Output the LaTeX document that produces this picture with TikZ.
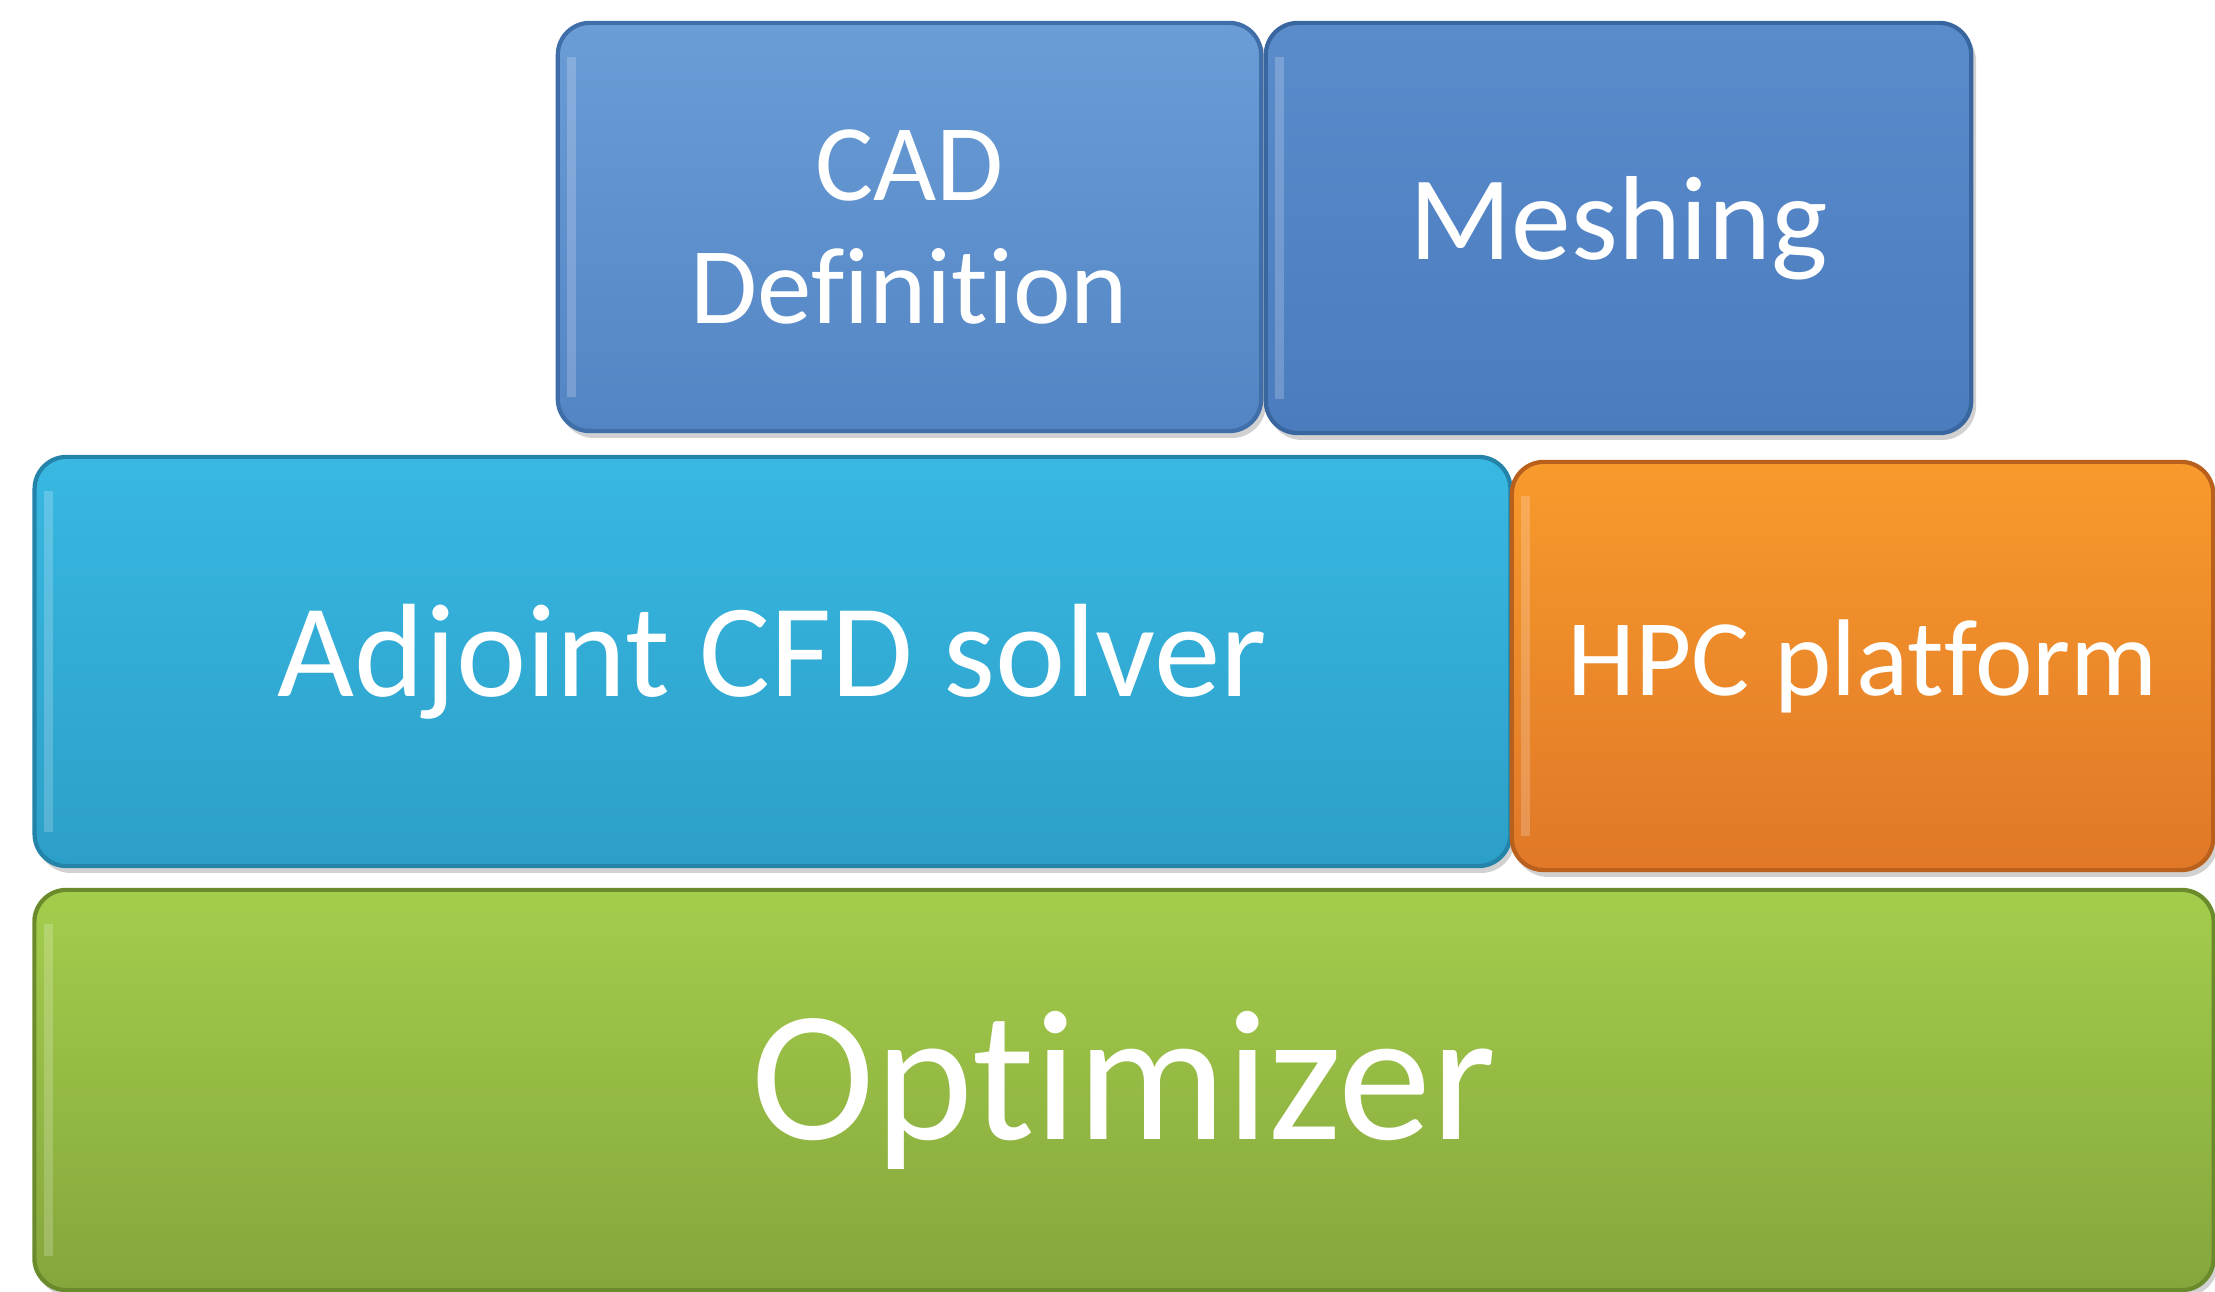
\documentclass[tikz,border=0pt]{standalone}
\usepackage{fontspec}
\setmainfont{Carlito}[RawFeature={-liga;-calt}]
\definecolor{cadtop}{HTML}{6A9CD6}
\definecolor{cadbot}{HTML}{5385C4}
\definecolor{cadedge}{HTML}{3F6EA8}
\definecolor{meshtop}{HTML}{5A8CCC}
\definecolor{meshbot}{HTML}{4A7CBE}
\definecolor{meshedge}{HTML}{3A66A0}
\definecolor{adjtop}{HTML}{38B8E2}
\definecolor{adjbot}{HTML}{2C9FC8}
\definecolor{adjedge}{HTML}{2383A8}
\definecolor{hpctop}{HTML}{F89A2C}
\definecolor{hpcbot}{HTML}{E07828}
\definecolor{hpcedge}{HTML}{B8601C}
\definecolor{opttop}{HTML}{A4CD4C}
\definecolor{optbot}{HTML}{85A63C}
\definecolor{optedge}{HTML}{6A8A2C}
\tikzset{
  blockbox/.style={rounded corners=0.32cm, line width=1.2pt, text=white, align=center, inner sep=0pt},
  gloss/.style={line width=2.5pt, white, opacity=0.2}
}
\begin{document}
\begin{tikzpicture}[x=0.01cm,y=-0.01cm]
\useasboundingbox[fill=white] (0,0) rectangle (2215,1292);
% drop shadows
\foreach \cx/\cy/\w/\h in {909.5/227/703/408, 1618.5/228/705/410, 772.5/661.5/1475/409, 1862.5/666/701/408, 1124/1090/2178/400}{
  \fill[black!18, rounded corners=0.34cm] (\cx-\w/2+2,\cy-\h/2+4) rectangle (\cx+\w/2+5,\cy+\h/2+7);
}
\node[blockbox, draw=cadedge, top color=cadtop, bottom color=cadbot, minimum width=7.03cm, minimum height=4.08cm, font=\fontsize{31}{35}\selectfont] (cad) at (909.5,227) {CAD\\Definition};
\node[blockbox, draw=meshedge, top color=meshtop, bottom color=meshbot, minimum width=7.05cm, minimum height=4.10cm, font=\fontsize{34}{40}\selectfont] (mesh) at (1618.5,228) {Meshing};
\node[blockbox, draw=adjedge, top color=adjtop, bottom color=adjbot, minimum width=14.75cm, minimum height=4.09cm, font=\fontsize{37.8}{44}\selectfont] (adj) at (772.5,661.5) {Adjoint CFD solver};
\node[blockbox, draw=hpcedge, top color=hpctop, bottom color=hpcbot, minimum width=7.01cm, minimum height=4.08cm, font=\fontsize{31}{36}\selectfont] (hpc) at (1862.5,666) {HPC platform};
\node[blockbox, draw=optedge, top color=opttop, bottom color=optbot, minimum width=21.78cm, minimum height=4.00cm, font=\fontsize{53}{60}\selectfont] (opt) at (1124,1090) {Optimizer};
% left-edge highlights
\foreach \n in {cad,mesh,adj,hpc,opt}{
  \draw[gloss] ([xshift=0.16cm,yshift=-0.36cm]\n.north west) -- ([xshift=0.16cm,yshift=0.36cm]\n.south west);
}
\end{tikzpicture}
\end{document}
